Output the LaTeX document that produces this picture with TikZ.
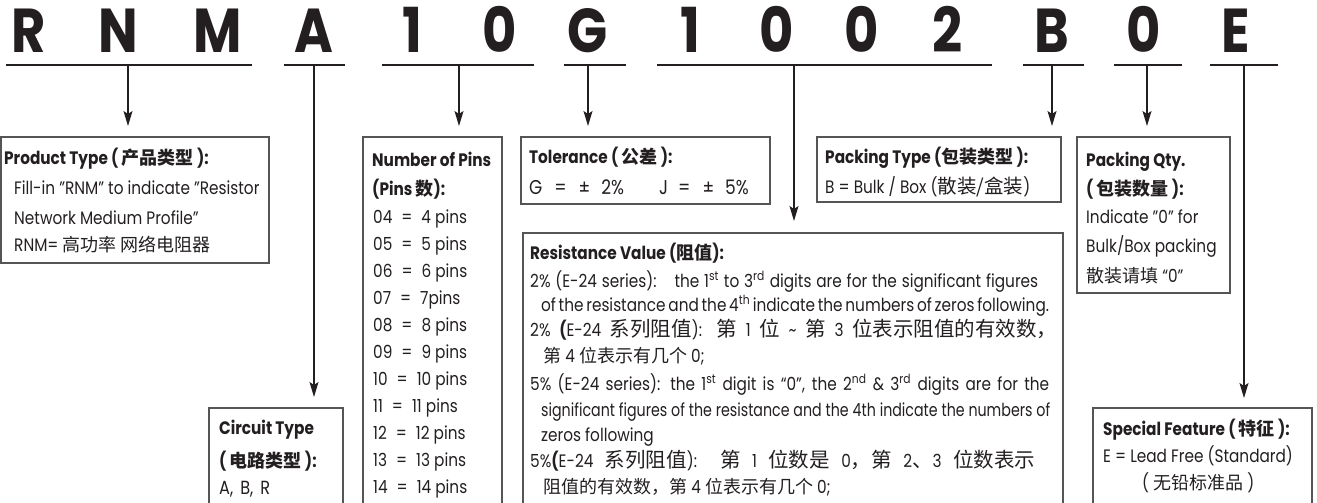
\documentclass[tikz,border=0pt]{standalone}
\usepackage{fontspec}
\setmainfont{Poppins}[FakeStretch=0.85]
\newfontfamily\narrowf{Poppins}[FakeStretch=0.79]
\newfontfamily\cjk{Noto Sans CJK SC}[Scale=1.0]
\newfontfamily\bigf{Poppins}[FakeStretch=0.85]
\usetikzlibrary{arrows.meta}
\definecolor{ink}{HTML}{231F20}
\definecolor{frame}{HTML}{555555}
\tikzset{
 box/.style={draw=frame, line width=1.1pt, anchor=north west, inner sep=0pt, outer sep=0pt},
 txt/.style={anchor=base west, inner sep=0pt, font=\fontsize{18}{18}\selectfont, text=ink},
 ttl/.style={anchor=base west, inner sep=0pt, font=\fontsize{18}{18}\selectfont\bfseries, text=ink},
 letter/.style={anchor=base, inner sep=0pt, font=\bigf\bfseries\fontsize{62}{62}\selectfont, text=ink},
 uline/.style={draw=ink, line width=1.4pt},
 arr/.style={draw=ink, line width=1.2pt, -{Stealth[length=15pt,width=9pt,inset=3pt]}},
}
\newcommand{\eqs}{\enspace=\enspace}
\newcommand{\fitline}[2]{\makebox[#1][s]{#2}}
\newcommand{\zhL}[1]{{\cjk\fontsize{20.5}{20.5}\selectfont #1}}
\begin{document}
\begin{tikzpicture}[x=1pt,y=-1pt]
\useasboundingbox (0,0) rectangle (1317,503);
\clip (0,0) rectangle (1317,503);
% code letters
\foreach \ch/\xx [count=\i] in {R/29,N/118,M/218,A/314,1/412,0/500,G/588,1/690,0/777,0/862,2/948,B/1052,0/1144,E/1236}
  \node[letter] (L\i) at (\xx,53) {\ch};
% underline end points
\coordinate (u1a) at (6,65);    \coordinate (u1b) at (252,65);  \coordinate (u1) at (128,65);
\coordinate (u2a) at (284,65);  \coordinate (u2b) at (345,65);  \coordinate (u2) at (314,65);
\coordinate (u3a) at (382,65);  \coordinate (u3b) at (534,65);  \coordinate (u3) at (459,65);
\coordinate (u4a) at (564,65);  \coordinate (u4b) at (626,65);  \coordinate (u4) at (588,65);
\coordinate (u5a) at (657,65);  \coordinate (u5b) at (992,65);  \coordinate (u5) at (794,65);
\coordinate (u6a) at (1023,65); \coordinate (u6b) at (1084,65); \coordinate (u6) at (1052,65);
\coordinate (u7a) at (1114,65); \coordinate (u7b) at (1182,65); \coordinate (u7) at (1147,65);
\coordinate (u8a) at (1210,65); \coordinate (u8b) at (1278,65); \coordinate (u8) at (1244,65);
\foreach \k in {1,...,8} \draw[uline] (u\k a) -- (u\k b);
% boxes
\node[box, minimum width=268pt, minimum height=126pt] (pt) at (1,137) {};
\node[box, minimum width=139pt, minimum height=400pt] (np) at (363,137) {};
\node[box, minimum width=249pt, minimum height=67pt] (tl) at (521,137) {};
\node[box, minimum width=244pt, minimum height=65pt] (pk) at (817,137) {};
\node[box, minimum width=153pt, minimum height=156pt] (pq) at (1077,137) {};
\node[box, minimum width=540pt, minimum height=300pt] (rv) at (523,233) {};
\node[box, minimum width=134pt, minimum height=150pt] (ct) at (209,408) {};
\node[box, minimum width=219pt, minimum height=150pt] (sf) at (1093,408) {};
% connectors
\draw[arr, shorten >=11pt] (u1) -- (u1 |- pt.north);
\draw[arr, shorten >=11pt] (u2) -- (u2 |- ct.north);
\draw[arr, shorten >=11pt] (u3) -- (u3 |- np.north);
\draw[arr, shorten >=11pt] (u4) -- (u4 |- tl.north);
\draw[arr, shorten >=12pt] (u5) -- (u5 |- rv.north);
\draw[arr, shorten >=11pt] (u6) -- (u6 |- pk.north);
\draw[arr, shorten >=11pt] (u7) -- (u7 |- pq.north);
\draw[arr, shorten >=10pt] (u8) -- (u8 |- sf.north);
% Product type
\node[ttl] (pt1) at (4,164) {Product Type ( {\cjk 产品类型} ):};
\node[txt] (pt2) at (14,194) {Fill-in "RNM" to indicate "Resistor};
\node[txt] (pt3) at (14,224) {Network Medium Profile"};
\node[txt] (pt4) at (14,251) {RNM= {\cjk 高功率 网络电阻器}};
% Number of pins
\node[ttl] (np1) at (372,166) {Number of Pins};
\node[ttl] (np2) at (372,195) {(Pins {\cjk 数}):};
\foreach \a/\b [count=\i from 0] in {04/4 pins,05/5 pins,06/6 pins,07/7pins,08/8 pins,09/9 pins,10/10 pins,11/11 pins,12/12 pins,13/13 pins,14/14 pins}
  \node[txt] (np\a) at (373,223+27*\i) {\a\eqs\b};
% Tolerance
\node[ttl] (tl1) at (529,163) {Tolerance ( {\cjk 公差} ):};
\node[txt, font=\fontsize{20}{20}\selectfont] (tl2) at (529,194) {G\hspace{12pt}=\hspace{12pt}±\hspace{11pt}2\%};
\node[txt, font=\fontsize{20}{20}\selectfont] (tl3) at (659,194) {J\hspace{10pt}=\hspace{12pt}±\hspace{11pt}5\%};
% Packing type
\node[ttl] (pk1) at (825,163) {Packing Type ({\cjk 包装类型} ):};
\node[txt] (pk2) at (825,193) {B = Bulk / Box ({\cjk\fontsize{19.5}{19.5}\selectfont 散装/盒装})};
% Packing qty
\node[ttl] (pq1) at (1086,166) {Packing Qty.};
\node[ttl] (pq2) at (1086,195) {( {\cjk 包装数量} ):};
\node[txt] (pq3) at (1086,223) {Indicate "0" for};
\node[txt] (pq4) at (1086,252) {Bulk/Box packing};
\node[txt] (pq5) at (1086,282) {{\cjk 散装请填} “0”};
% Resistance value
\node[ttl] (rv0) at (530,259) {Resistance Value ({\cjk 阻值}):};
\node[txt] (rv1) at (530,287) {\fitline{508pt}{2\% (E-24 series):\quad the 1\textsuperscript{st} to 3\textsuperscript{rd} digits are for the significant figures}};
\node[txt] (rv2) at (541,311) {\fitline{498pt}{of the resistance and the 4\textsuperscript{th} indicate the numbers of zeros following.}};
\node[txt] (rv3) at (530,336) {\fitline{527pt}{2\% \textbf{(}E-24 \zhL{系列阻值}): \zhL{第} 1 \zhL{位} \textasciitilde{} \zhL{第} 3 \zhL{位表示阻值的有效数，}}};
\node[txt] (rv4) at (543,362) {{\cjk 第} 4 {\cjk 位表示有几个} 0;};
\node[txt] (rv5) at (530,390) {\fitline{519pt}{5\% (E-24 series): the 1\textsuperscript{st} digit is “0”, the 2\textsuperscript{nd} \& 3\textsuperscript{rd} digits are for the}};
\node[txt] (rv6) at (541,416) {\narrowf\fitline{509pt}{significant figures of the resistance and the 4th indicate the numbers of}};
\node[txt] (rv7) at (541,441) {zeros following};
\node[txt] (rv8) at (530,467) {\fitline{505pt}{5\%\textbf{(}E-24 \zhL{系列阻值}):\ \ \zhL{第} 1 \zhL{位数是} 0\zhL{，第} 2\zhL{、}3 \zhL{位数表示}}};
\node[txt] (rv9) at (543,493) {{\cjk 阻值的有效数，第} 4 {\cjk 位表示有几个} 0;};
% Circuit type
\node[ttl] (ct1) at (219,434) {Circuit Type};
\node[ttl] (ct2) at (219,467) {( {\cjk 电路类型} ):};
\node[txt, font=\fontsize{19}{19}\selectfont] (ct3) at (219,494) {A,\hspace{7pt}B,\hspace{7pt}R};
% Special feature
\node[ttl] (sf1) at (1103,435) {Special Feature ( {\cjk 特征} ):};
\node[txt] (sf2) at (1103,462) {E = Lead Free (Standard)};
\node[txt] (sf3) at (1142,489) {( {\cjk 无铅标准品} )};
\end{tikzpicture}
\end{document}
